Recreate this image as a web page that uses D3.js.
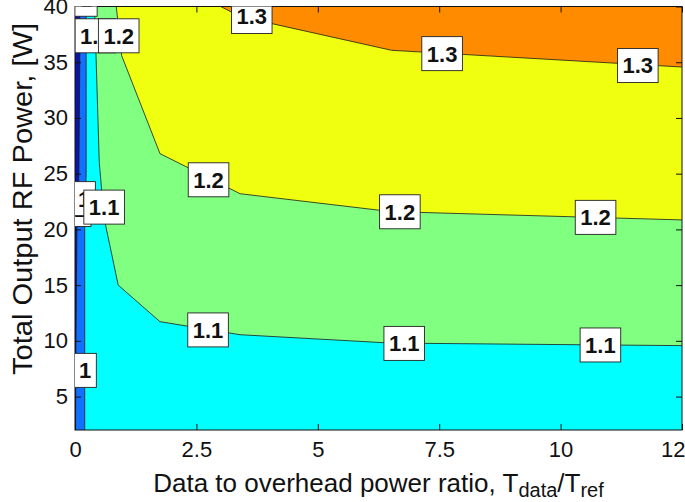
<!doctype html>
<html lang="en">
<head>
<meta charset="utf-8">
<title>contour</title>
<style>
html, body {
	margin: 0;
	padding: 0;
	background: #fff;
	overflow: hidden;
}
svg text {
	font-family: "Liberation Sans", Arial, Helvetica, sans-serif;
	fill: #111;
}
.tick text {
	font-size: 22px;
}
.clabel text {
	font-size: 22px;
	font-weight: bold;
}
</style>
</head>
<body>
<div id="chart"></div>
<script src="https://cdnjs.cloudflare.com/ajax/libs/d3/7.8.5/d3.min.js"></script>
<script>
/* DATA */

var xTicks = [0, 2.5, 5, 7.5, 10, 12.5];
var xTickLabels = ['0', '2.5', '5', '7.5', '10', '12.5'];
var yTicks = [5, 10, 15, 20, 25, 30, 35, 40];
var yTickLabels = ['5', '10', '15', '20', '25', '30', '35', '40'];

var xDomain = [0, 12.5];
var yDomain = [2, 40];

// contour lines, [x, y]
var line09 = [[0.10, 40], [0.10, 36], [0.08, 25], [0.04, 20], [0.02, 10], [0.01, 2]];
var line10 = [[0.23, 40], [0.23, 25], [0.20, 20], [0.20, 2]];
var line11 = [[0.40, 40], [0.43, 36], [0.50, 26], [0.60, 21], [0.89, 15], [1.75, 11.72], [3.4, 10.55], [6.5, 9.8], [12.5, 9.57]];
var line12 = [[0.85, 40], [0.96, 35.6], [1.75, 26.8], [3.4, 23.2], [6.5, 21.6], [12.5, 20.85]];
var line13 = [[3.0, 40], [3.4, 39.1], [6.52, 36.07], [12.5, 34.57]];

var levels = ['0.9', '1', '1.1', '1.2', '1.3'];
var levelLines = [line09, line10, line11, line12, line13];
// colour under each level line, plus the one above the last
var bandColors = ['#0a14a8', '#1270ff', '#00ffff', '#80ff80', '#f0ff10'];
var topColor = '#ff8c00';

// inline labels: [text, x, y]
var labels = [
	['1', 0.227, 40.65],
	['1', 0.10, 21.79],
	['1', 0.19, 22.76],
	['1', 0.21, 7.35],
	['1.1', 0.42, 37.37],
	['1.1', 0.60, 22.0],
	['1.1', 2.74, 10.98],
	['1.1', 6.78, 9.77],
	['1.1', 10.82, 9.63],
	['1.2', 0.90, 37.37],
	['1.2', 2.75, 24.45],
	['1.2', 6.69, 21.58],
	['1.2', 10.72, 21.08],
	['1.3', 3.64, 39.1],
	['1.3', 7.56, 35.77],
	['1.3', 11.59, 34.70]
];

/* LAYOUT */

var W = 685, H = 502;
var box = { left: 75, right: 682, top: 6.5, bottom: 430 };

var x = d3.scaleLinear().domain(xDomain).range([box.left, box.right]);
var y = d3.scaleLinear().domain(yDomain).range([box.bottom, box.top]);

var svg = d3.select('#chart').append('svg')
	.attr('width', W)
	.attr('height', H);

svg.append('defs').append('clipPath')
	.attr('id', 'plotclip')
	.append('rect')
	.attr('x', box.left)
	.attr('y', box.top)
	.attr('width', box.right - box.left)
	.attr('height', box.bottom - box.top);

var plot = svg.append('g').attr('clip-path', 'url(#plotclip)');

// region above the highest level
plot.append('rect')
	.attr('x', box.left)
	.attr('y', box.top)
	.attr('width', box.right - box.left)
	.attr('height', box.bottom - box.top)
	.attr('fill', topColor);

// close a level line along the right / bottom / left edges
var closeRegion = function (pts) {
	var out = pts.slice();
	var last = pts[pts.length - 1];
	if (last[0] === xDomain[1]) {
		out.push([xDomain[1], yDomain[0]]);
	}
	out.push([xDomain[0], yDomain[0]]);
	out.push([xDomain[0], yDomain[1]]);
	return out;
};

var lineGen = d3.line()
	.x(function (d) { return x(d[0]); })
	.y(function (d) { return y(d[1]); });

// fill from highest level to lowest
for (var i = levelLines.length - 1; i >= 0; i--) {
	plot.append('path')
		.attr('d', lineGen(closeRegion(levelLines[i])) + 'Z')
		.attr('fill', bandColors[i])
		.attr('stroke', 'none');
}

plot.selectAll('path.cline')
	.data(levelLines)
	.enter()
	.append('path')
	.attr('class', 'cline')
	.attr('d', lineGen)
	.attr('fill', 'none')
	.attr('stroke', '#1a1a1a')
	.attr('stroke-width', 0.8);

/* AXES */

var fmt = function (list, ticks) {
	return function (d) { return list[ticks.indexOf(d)]; };
};

svg.append('g')
	.attr('transform', 'translate(0,' + box.bottom + ')')
	.call(d3.axisBottom(x).tickValues(xTicks).tickFormat(fmt(xTickLabels, xTicks))
		.tickSizeInner(-6).tickSizeOuter(0).tickPadding(11));
svg.append('g')
	.attr('transform', 'translate(0,' + box.top + ')')
	.call(d3.axisTop(x).tickValues(xTicks).tickFormat('')
		.tickSizeInner(-6).tickSizeOuter(0));
svg.append('g')
	.attr('transform', 'translate(' + box.left + ',0)')
	.call(d3.axisLeft(y).tickValues(yTicks).tickFormat(fmt(yTickLabels, yTicks))
		.tickSizeInner(-6).tickSizeOuter(0).tickPadding(7));
svg.append('g')
	.attr('transform', 'translate(' + box.right + ',0)')
	.call(d3.axisRight(y).tickValues(yTicks).tickFormat('')
		.tickSizeInner(-6).tickSizeOuter(0));

svg.selectAll('.domain').remove();
svg.selectAll('.tick line').attr('stroke', '#111');
svg.selectAll('.tick text').attr('fill', '#111');

svg.append('rect')
	.attr('x', box.left)
	.attr('y', box.top)
	.attr('width', box.right - box.left)
	.attr('height', box.bottom - box.top)
	.attr('fill', 'none')
	.attr('stroke', '#111')
	.attr('stroke-width', 1);

/* LABELS */

var lab = svg.append('g')
	.attr('class', 'clabel')
	.attr('clip-path', 'url(#plotclip)');

labels.forEach(function (d) {
	var g = lab.append('g')
		.attr('transform', 'translate(' + x(d[1]) + ',' + y(d[2]) + ')');
	var r = g.append('rect');
	var t = g.append('text')
		.attr('text-anchor', 'middle')
		.attr('dy', '0.36em')
		.text(d[0]);
	var w = t.node().getComputedTextLength() + 10;
	r.attr('x', -w / 2)
		.attr('y', -17)
		.attr('width', w)
		.attr('height', 34)
		.attr('fill', '#fff')
		.attr('stroke', '#222')
		.attr('stroke-width', 0.9);
});

/* TITLES */

var xt = svg.append('text')
	.attr('x', (box.left + box.right) / 2)
	.attr('y', 491.5)
	.attr('text-anchor', 'middle')
	.style('font-size', '26px');
xt.append('tspan').text('Data to overhead power ratio, T');
xt.append('tspan').attr('dy', 5).style('font-size', '20px').text('data');
xt.append('tspan').attr('dy', -5).text('/T');
xt.append('tspan').attr('dy', 5).style('font-size', '20px').text('ref');

svg.append('text')
	.attr('transform', 'translate(32,' + 199 + ') rotate(-90)')
	.attr('text-anchor', 'middle')
	.attr('textLength', 352)
	.attr('lengthAdjust', 'spacingAndGlyphs')
	.style('font-size', '28px')
	.text('Total Output RF Power, [W]');
</script>
</body>
</html>
